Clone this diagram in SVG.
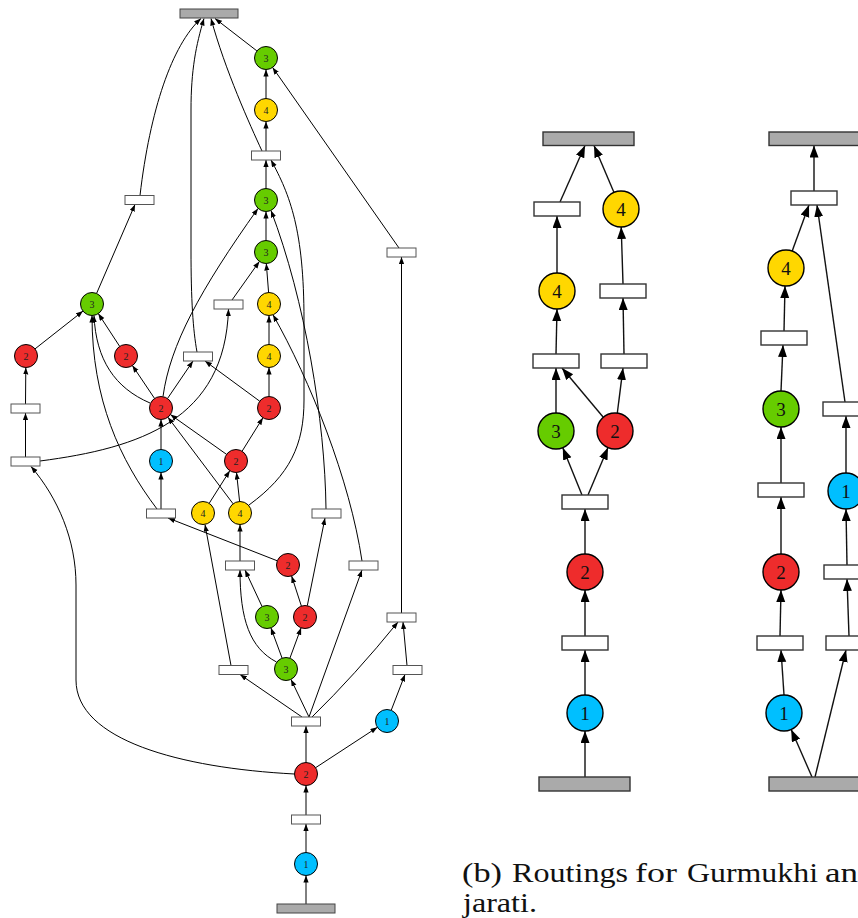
<svg xmlns="http://www.w3.org/2000/svg" width="858" height="918" viewBox="0 0 858 918">
  <defs>
    <marker id="ah" markerUnits="userSpaceOnUse" markerWidth="8" markerHeight="6" refX="7" refY="2.6" orient="auto">
      <path d="M0,0 L7,2.6 L0,5.2 z" fill="#000"/>
    </marker>
    <marker id="ahb" markerUnits="userSpaceOnUse" markerWidth="14" markerHeight="10" refX="12" refY="4.5" orient="auto">
      <path d="M0,0 L12,4.5 L0,9 z" fill="#000"/>
    </marker>
    <style>
      .e { fill: none; stroke: #000; stroke-width: 1; marker-end: url(#ah); }
      .eb { fill: none; stroke: #111; stroke-width: 1.4; marker-end: url(#ahb); }
      .box { fill: #fff; stroke: #555; stroke-width: 1; }
      .boxb { fill: #fff; stroke: #333; stroke-width: 1.4; }
      .term { fill: #aaaaaa; stroke: #444; stroke-width: 1; }
      .termb { fill: #aaaaaa; stroke: #333; stroke-width: 1.4; }
      .c { stroke: #000; stroke-width: 1; }
      .cb { stroke: #000; stroke-width: 1.4; }
      .g { fill: #66cc00; }
      .y { fill: #ffd700; }
      .r { fill: #ee2c2c; }
      .b { fill: #00bfff; }
      .t { font-family: "Liberation Serif", "Times New Roman", serif; font-size: 10px; fill: #222; text-anchor: middle; }
      .tb { font-family: "Liberation Serif", "Times New Roman", serif; font-size: 19px; fill: #111; text-anchor: middle; }
      .cap { font-family: "Liberation Serif", "Times New Roman", serif; font-size: 27px; fill: #111; }
    </style>
  </defs>

  <!-- ===== Left routing graph: connectors ===== -->
  <g id="connectors-left">
    <path class="e" d="M306,904 L306,875.5"/>
    <path class="e" d="M306,852.5 L306,824"/>
    <path class="e" d="M306,815 L306,785.5"/>
    <path class="e" d="M306,762.5 L306,726"/>
    <path class="e" d="M315.6,767.7 L377.4,727.3"/>
    <path class="e" d="M294.5,774 C 180,768 76,740 76,680 L76,585 C 76,540 58,498 31,466.5"/>
    <path class="e" d="M309,717 L291,679.4"/>
    <path class="e" d="M302,717 L240,674.5"/>
    <path class="e" d="M309,717 L362,570"/>
    <path class="e" d="M312,717 Q 355,675 398,622"/>
    <path class="e" d="M391.2,710.3 L405,674.5"/>
    <path class="e" d="M407,665.5 L403,622"/>
    <path class="e" d="M401.5,613 L401.5,257"/>
    <path class="e" d="M399,248 L272.6,67.4"/>
    <path class="e" d="M256.9,50.9 L215,18.5"/>
    <path class="e" d="M266,98.5 L266,69.5"/>
    <path class="e" d="M266,151 L266,121.5"/>
    <path class="e" d="M262,151 C 250,125 225,70 211,18.5"/>
    <path class="e" d="M266,188.5 L266,160"/>
    <path class="e" d="M249,505 C 290,475 304,445 304,400 L304,320 C 304,230 290,195 271,160"/>
    <path class="e" d="M266,240.5 L266,211.5"/>
    <path class="e" d="M163,396.5 C 170,345 200,290 258,208.5"/>
    <path class="e" d="M326,509 C 325,420 305,300 271,210.5"/>
    <path class="e" d="M268.6,292.5 L266.3,263.5"/>
    <path class="e" d="M232,300 L259.4,261.4"/>
    <path class="e" d="M269,344.5 L269,315.5"/>
    <path class="e" d="M362,561 C 350,480 310,380 273,314.8"/>
    <path class="e" d="M231,665.5 L205,524.5"/>
    <path class="e" d="M209.2,503.3 L229.8,470.7"/>
    <path class="e" d="M239.6,501.5 L236.5,472.5"/>
    <path class="e" d="M233.1,503.8 L167.9,417.2"/>
    <path class="e" d="M226.6,454.4 L170.4,414.6"/>
    <path class="e" d="M242.1,451.2 L262.9,417.8"/>
    <path class="e" d="M240,561 L240,524.5"/>
    <path class="e" d="M277.3,560.8 L168,518"/>
    <path class="e" d="M262.1,606.6 L245,570"/>
    <path class="e" d="M276.5,662 C 250,648 240,620 240,570"/>
    <path class="e" d="M282.1,658.2 L270.9,627.8"/>
    <path class="e" d="M289.9,658.2 L301.1,627.8"/>
    <path class="e" d="M301.4,606.1 L291.6,575.9"/>
    <path class="e" d="M307.3,605.7 L325,518"/>
    <path class="e" d="M161,509 L161,472.5"/>
    <path class="e" d="M157,509 C 120,460 92,400 92,315.5"/>
    <path class="e" d="M161,449.5 L161,419.5"/>
    <path class="e" d="M150,403 C 115,388 96,360 94,315.5"/>
    <path class="e" d="M154.6,398.5 L132.4,365.5"/>
    <path class="e" d="M167.5,398.5 L193,361"/>
    <path class="e" d="M259.7,401.2 L205,361"/>
    <path class="e" d="M269,396.5 L269,367.5"/>
    <path class="e" d="M25.5,457 L25.5,413"/>
    <path class="e" d="M25.5,404 L25.8,367.5"/>
    <path class="e" d="M35,348.9 L83,311.1"/>
    <path class="e" d="M119.7,346.4 L98.3,313.6"/>
    <path class="e" d="M40,461 C 140,448 225,420 228.5,309"/>
    <path class="e" d="M197,352 C 193,330 191,300 191,250 L191,110 C 191,70 196,45 204,18.5"/>
    <path class="e" d="M140,195.5 C 150,110 172,45 201,18.5"/>
    <path class="e" d="M96.6,293.4 L135,204.5"/>
  </g>

  <!-- ===== Left routing graph: nodes ===== -->
  <g id="L-top"><rect class="term" x="180" y="9" width="58" height="9"/></g>
  <g id="L-bottom"><rect class="term" x="277" y="904" width="58" height="9"/></g>

  <g id="L-box-1"><rect class="box" x="251.5" y="151" width="29" height="9"/></g>
  <g id="L-box-2"><rect class="box" x="125" y="195.5" width="29" height="9"/></g>
  <g id="L-box-3"><rect class="box" x="387" y="248" width="29" height="9"/></g>
  <g id="L-box-4"><rect class="box" x="214" y="300" width="29" height="9"/></g>
  <g id="L-box-5"><rect class="box" x="183.5" y="352" width="29" height="9"/></g>
  <g id="L-box-6"><rect class="box" x="11" y="404" width="29" height="9"/></g>
  <g id="L-box-7"><rect class="box" x="11" y="457" width="29" height="9"/></g>
  <g id="L-box-8"><rect class="box" x="146.5" y="509" width="29" height="9"/></g>
  <g id="L-box-9"><rect class="box" x="312" y="509" width="29" height="9"/></g>
  <g id="L-box-10"><rect class="box" x="225.5" y="561" width="29" height="9"/></g>
  <g id="L-box-11"><rect class="box" x="349" y="561" width="29" height="9"/></g>
  <g id="L-box-12"><rect class="box" x="387" y="613" width="29" height="9"/></g>
  <g id="L-box-13"><rect class="box" x="219" y="665.5" width="29" height="9"/></g>
  <g id="L-box-14"><rect class="box" x="393" y="665.5" width="29" height="9"/></g>
  <g id="L-box-15"><rect class="box" x="291.5" y="717" width="29" height="9"/></g>
  <g id="L-box-16"><rect class="box" x="291.5" y="815" width="29" height="9"/></g>

  <g id="L-g1"><circle class="c g" cx="266" cy="58" r="11.5"/><text class="t" x="266" y="61.5">3</text></g>
  <g id="L-y1"><circle class="c y" cx="266" cy="110" r="11.5"/><text class="t" x="266" y="113.5">4</text></g>
  <g id="L-g2"><circle class="c g" cx="266" cy="200" r="11.5"/><text class="t" x="266" y="203.5">3</text></g>
  <g id="L-g3"><circle class="c g" cx="266" cy="252" r="11.5"/><text class="t" x="266" y="255.5">3</text></g>
  <g id="L-y2"><circle class="c y" cx="269" cy="304" r="11.5"/><text class="t" x="269" y="307.5">4</text></g>
  <g id="L-g4"><circle class="c g" cx="92" cy="304" r="11.5"/><text class="t" x="92" y="307.5">3</text></g>
  <g id="L-r1"><circle class="c r" cx="26" cy="356" r="11.5"/><text class="t" x="26" y="359.5">2</text></g>
  <g id="L-r2"><circle class="c r" cx="126" cy="356" r="11.5"/><text class="t" x="126" y="359.5">2</text></g>
  <g id="L-y3"><circle class="c y" cx="269" cy="356" r="11.5"/><text class="t" x="269" y="359.5">4</text></g>
  <g id="L-r3"><circle class="c r" cx="161" cy="408" r="11.5"/><text class="t" x="161" y="411.5">2</text></g>
  <g id="L-r4"><circle class="c r" cx="269" cy="408" r="11.5"/><text class="t" x="269" y="411.5">2</text></g>
  <g id="L-b1"><circle class="c b" cx="161" cy="461" r="11.5"/><text class="t" x="161" y="464.5">1</text></g>
  <g id="L-r5"><circle class="c r" cx="236" cy="461" r="11.5"/><text class="t" x="236" y="464.5">2</text></g>
  <g id="L-y4"><circle class="c y" cx="203" cy="513" r="11.5"/><text class="t" x="203" y="516.5">4</text></g>
  <g id="L-y5"><circle class="c y" cx="240" cy="513" r="11.5"/><text class="t" x="240" y="516.5">4</text></g>
  <g id="L-r6"><circle class="c r" cx="288" cy="565" r="11.5"/><text class="t" x="288" y="568.5">2</text></g>
  <g id="L-g5"><circle class="c g" cx="267" cy="617" r="11.5"/><text class="t" x="267" y="620.5">3</text></g>
  <g id="L-r7"><circle class="c r" cx="305" cy="617" r="11.5"/><text class="t" x="305" y="620.5">2</text></g>
  <g id="L-g6"><circle class="c g" cx="286" cy="669" r="11.5"/><text class="t" x="286" y="672.5">3</text></g>
  <g id="L-b2"><circle class="c b" cx="387" cy="721" r="11.5"/><text class="t" x="387" y="724.5">1</text></g>
  <g id="L-r8"><circle class="c r" cx="306" cy="774" r="11.5"/><text class="t" x="306" y="777.5">2</text></g>
  <g id="L-b3"><circle class="c b" cx="306" cy="864" r="11.5"/><text class="t" x="306" y="867.5">1</text></g>

  <!-- ===== Middle routing graph ===== -->
  <g id="connectors-mid">
    <path class="eb" d="M585,777 L585,731"/>
    <path class="eb" d="M585,695 L585,650"/>
    <path class="eb" d="M585,636 L585,590"/>
    <path class="eb" d="M585,554 L585,509"/>
    <path class="eb" d="M582,495 L562.8,447.7"/>
    <path class="eb" d="M588,495 L608,447.6"/>
    <path class="eb" d="M556,413 L556,368"/>
    <path class="eb" d="M603.3,417.3 L562,368"/>
    <path class="eb" d="M617.3,413.1 L623,368"/>
    <path class="eb" d="M556,354 L557,309"/>
    <path class="eb" d="M624,354 L623,298"/>
    <path class="eb" d="M557,273 L557,216"/>
    <path class="eb" d="M623,284 L621.2,227"/>
    <path class="eb" d="M560,202 L585,145.5"/>
    <path class="eb" d="M614,192.4 L594,145.5"/>
  </g>

  <g id="M-top"><rect class="termb" x="543" y="132" width="91" height="13.5"/></g>
  <g id="M-bottom"><rect class="termb" x="539" y="777" width="91" height="14"/></g>
  <g id="M-box-a"><rect class="boxb" x="534" y="202" width="46" height="14"/></g>
  <g id="M-box-b"><rect class="boxb" x="600" y="284" width="46" height="14"/></g>
  <g id="M-box-c"><rect class="boxb" x="533" y="354" width="46" height="14"/></g>
  <g id="M-box-d"><rect class="boxb" x="601" y="354" width="46" height="14"/></g>
  <g id="M-box-e"><rect class="boxb" x="562" y="495" width="46" height="14"/></g>
  <g id="M-box-f"><rect class="boxb" x="562" y="636" width="46" height="14"/></g>

  <g id="M-y1"><circle class="cb y" cx="621" cy="209" r="18"/><text class="tb" x="621" y="215.5">4</text></g>
  <g id="M-y2"><circle class="cb y" cx="557" cy="291" r="18"/><text class="tb" x="557" y="297.5">4</text></g>
  <g id="M-g1"><circle class="cb g" cx="556" cy="431" r="18"/><text class="tb" x="556" y="437.5">3</text></g>
  <g id="M-r1"><circle class="cb r" cx="615" cy="431" r="18"/><text class="tb" x="615" y="437.5">2</text></g>
  <g id="M-r2"><circle class="cb r" cx="585" cy="572" r="18"/><text class="tb" x="585" y="578.5">2</text></g>
  <g id="M-b1"><circle class="cb b" cx="585" cy="713" r="18"/><text class="tb" x="585" y="719.5">1</text></g>

  <!-- ===== Right routing graph ===== -->
  <g id="connectors-right">
    <path class="eb" d="M814,191 L814,145.5"/>
    <path class="eb" d="M792.2,251.1 L809,205"/>
    <path class="eb" d="M845,402 L817,205"/>
    <path class="eb" d="M784,331 L785,286"/>
    <path class="eb" d="M781,391 L783,345"/>
    <path class="eb" d="M781,483 L781,427"/>
    <path class="eb" d="M781,554 L781,497"/>
    <path class="eb" d="M780,636 L781,590"/>
    <path class="eb" d="M784,695 L781,650"/>
    <path class="eb" d="M812,777 L791.2,729.5"/>
    <path class="eb" d="M815,777 L846,650"/>
    <path class="eb" d="M849,636 L847,579"/>
    <path class="eb" d="M847,565 L846,509"/>
    <path class="eb" d="M846,473 L846,416"/>
  </g>

  <g id="R-top"><rect class="termb" x="769" y="132" width="91" height="13.5"/></g>
  <g id="R-bottom"><rect class="termb" x="769" y="777" width="91" height="14"/></g>
  <g id="R-box-p"><rect class="boxb" x="791" y="191" width="46" height="14"/></g>
  <g id="R-box-q"><rect class="boxb" x="761" y="331" width="46" height="14"/></g>
  <g id="R-box-s"><rect class="boxb" x="823" y="402" width="46" height="14"/></g>
  <g id="R-box-t"><rect class="boxb" x="758" y="483" width="46" height="14"/></g>
  <g id="R-box-u"><rect class="boxb" x="824" y="565" width="46" height="14"/></g>
  <g id="R-box-v"><rect class="boxb" x="757" y="636" width="46" height="14"/></g>
  <g id="R-box-w"><rect class="boxb" x="826" y="636" width="46" height="14"/></g>

  <g id="R-y1"><circle class="cb y" cx="786" cy="268" r="18"/><text class="tb" x="786" y="274.5">4</text></g>
  <g id="R-g1"><circle class="cb g" cx="781" cy="409" r="18"/><text class="tb" x="781" y="415.5">3</text></g>
  <g id="R-b1"><circle class="cb b" cx="846" cy="491" r="18"/><text class="tb" x="846" y="497.5">1</text></g>
  <g id="R-r1"><circle class="cb r" cx="781" cy="572" r="18"/><text class="tb" x="781" y="578.5">2</text></g>
  <g id="R-b2"><circle class="cb b" cx="784" cy="713" r="18"/><text class="tb" x="784" y="719.5">1</text></g>

  <!-- ===== Caption ===== -->
  <g id="caption">
    <text class="cap" y="882">
      <tspan x="462" textLength="40" lengthAdjust="spacingAndGlyphs">(b)</tspan>
      <tspan x="512" textLength="116" lengthAdjust="spacingAndGlyphs">Routings</tspan>
      <tspan x="635" textLength="42" lengthAdjust="spacingAndGlyphs">for</tspan>
      <tspan x="687" textLength="131" lengthAdjust="spacingAndGlyphs">Gurmukhi</tspan>
      <tspan x="825" textLength="33" lengthAdjust="spacingAndGlyphs">an</tspan>
    </text>
    <text class="cap" x="463" y="912" textLength="74" lengthAdjust="spacingAndGlyphs">jarati.</text>
  </g>
</svg>
